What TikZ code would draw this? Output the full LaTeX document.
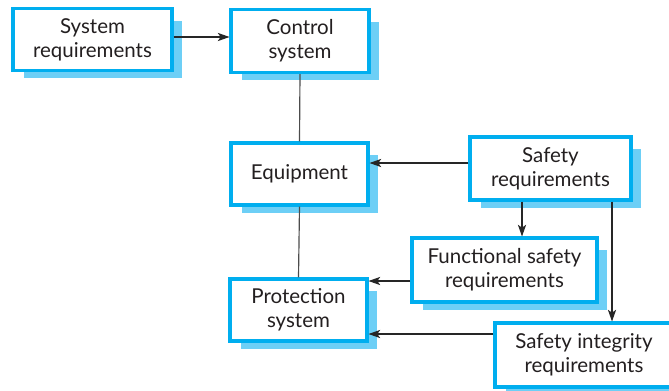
\documentclass[tikz,border=0pt]{standalone}
\usepackage{fontspec}
\setmainfont{Lato}
\usetikzlibrary{arrows.meta,backgrounds}
\definecolor{boxblue}{HTML}{00AEEF}
\definecolor{shadeblue}{HTML}{6DCFF6}
\definecolor{textgray}{HTML}{231F20}

\begin{document}
\begin{tikzpicture}[x=0.03cm,y=-0.03cm,
    reqbox/.style={draw=boxblue, line width=2.6pt, fill=white, align=center,
      inner sep=0pt, text=textgray, font=\fontsize{17.5}{20.5}\selectfont},
    arr/.style={-{Stealth[length=10pt,width=7pt,inset=2.5pt]}, line width=0.9pt, draw=black!85},
    link/.style={line width=1pt, draw=black!70}]
  \useasboundingbox (0,0) rectangle (669,390);

  % boxes
  \node[reqbox, minimum width=4.77cm, minimum height=1.86cm] (sysreq) at (92.5,39.5) {System\\requirements};
  \node[reqbox, minimum width=4.14cm, minimum height=1.89cm] (control) at (300,41) {Control\\system};
  \node[reqbox, minimum width=4.11cm, minimum height=1.86cm] (equip) at (299.5,174) {Equipment};
  \node[reqbox, minimum width=4.11cm, minimum height=1.86cm] (protect) at (298.5,310) {Protection\\system};
  \node[reqbox, minimum width=4.83cm, minimum height=1.89cm] (safety) at (550.5,168.5) {Safety\\requirements};
  \node[reqbox, minimum width=5.55cm, minimum height=1.92cm] (functional) at (504.5,270) {Functional safety\\requirements};
  \node[reqbox, minimum width=5.34cm, minimum height=1.92cm] (integrity) at (584,355) {Safety integrity\\requirements};

  % shadows
  \begin{scope}[on background layer]
    \foreach \n in {sysreq,control,equip,protect,safety,functional,integrity}
      \fill[shadeblue] ([shift={(13,6)}]\n.south west) rectangle ([shift={(8,14)}]\n.north east);
  \end{scope}

  % connectors
  \draw[arr] ([shift={(0,-2.5)}]sysreq.east) coordinate (r1) -- (r1 -| control.west);
  \draw[link] (control.south) -- (equip.north);
  \draw[link] (equip.south) -- (protect.north);
  \draw[arr] ([shift={(0,-5.5)}]safety.west) coordinate (s1) -- (s1 -| equip.east);
  \draw[arr] ([shift={(0,11)}]functional.west) coordinate (f1) -- (f1 -| protect.east);
  \draw[arr] ([shift={(0,-21)}]integrity.west) coordinate (i1) -- (i1 -| protect.east);
  \draw[arr] ([shift={(-28.5,0)}]safety.south) coordinate (s2) -- (s2 |- functional.north);
  \draw[arr] ([shift={(61.5,0)}]safety.south) coordinate (s3) -- (s3 |- integrity.north);
\end{tikzpicture}
\end{document}
